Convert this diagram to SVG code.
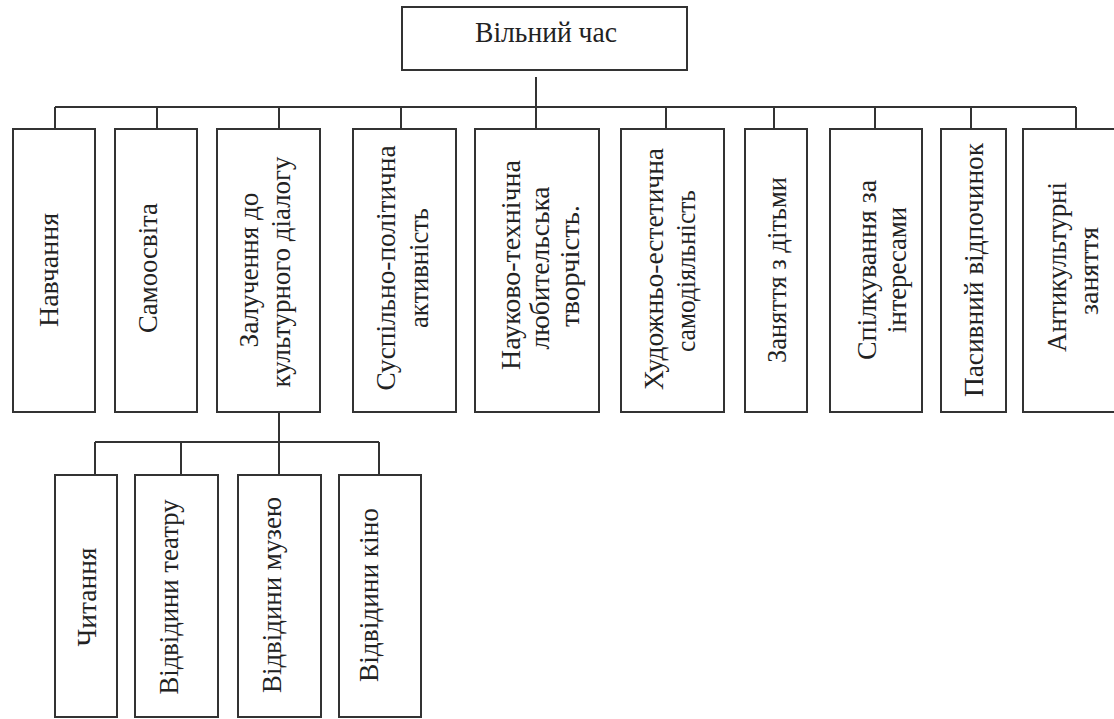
<svg xmlns="http://www.w3.org/2000/svg" width="1114" height="719" viewBox="0 0 1114 719">
<style>
.box{fill:#fff;stroke:#333;stroke-width:2}
.ln{fill:none;stroke:#333;stroke-width:2}
text{font-family:"Liberation Serif","Times New Roman",serif;font-size:27px;fill:#222;text-anchor:middle}
.top{font-size:30px}
</style>
<rect width="1114" height="719" fill="#fff"/>
<g id="connectors" class="ln">
<path d="M536 77V107M55 107H1076"/>
<path d="M55 107V129M157 107V129M279 107V129M401 107V129M536 107V129M666 107V129M774 107V129M875 107V129M971 107V129M1076 107V129"/>
<path d="M279 412V475M95 442H379M95 442V475M181 442V475M379 442V475"/>
</g>
<g id="n-root"><rect class="box" x="402" y="7" width="285" height="63"/><text class="top" x="546" y="42" textLength="142" lengthAdjust="spacingAndGlyphs">Вільний час</text></g>
<g id="n1"><rect class="box" x="13" y="129" width="82" height="283"/><text transform="translate(58,270) rotate(-90)" textLength="114" lengthAdjust="spacingAndGlyphs">Навчання</text></g>
<g id="n2"><rect class="box" x="115" y="129" width="82" height="283"/><text transform="translate(157,268) rotate(-90)" textLength="130" lengthAdjust="spacingAndGlyphs">Самоосвіта</text></g>
<g id="n3"><rect class="box" x="217" y="129" width="103" height="283"/><text transform="translate(258,270) rotate(-90)" textLength="155" lengthAdjust="spacingAndGlyphs">Залучення до</text><text transform="translate(290,272) rotate(-90)" textLength="231" lengthAdjust="spacingAndGlyphs">культурного діалогу</text></g>
<g id="n4"><rect class="box" x="353" y="129" width="103" height="283"/><text transform="translate(395,268) rotate(-90)" textLength="245" lengthAdjust="spacingAndGlyphs">Суспільно-політична</text><text transform="translate(428,268) rotate(-90)" textLength="120" lengthAdjust="spacingAndGlyphs">активність</text></g>
<g id="n5"><rect class="box" x="475" y="129" width="124" height="283"/><text transform="translate(520,265) rotate(-90)" textLength="210" lengthAdjust="spacingAndGlyphs">Науково-технічна</text><text transform="translate(549,268) rotate(-90)" textLength="163" lengthAdjust="spacingAndGlyphs">любительська</text><text transform="translate(579,266) rotate(-90)" textLength="122" lengthAdjust="spacingAndGlyphs">творчість.</text></g>
<g id="n6"><rect class="box" x="621" y="129" width="103" height="283"/><text transform="translate(663,269) rotate(-90)" textLength="242" lengthAdjust="spacingAndGlyphs">Художньо-естетична</text><text transform="translate(695,271) rotate(-90)" textLength="162" lengthAdjust="spacingAndGlyphs">самодіяльність</text></g>
<g id="n7"><rect class="box" x="745" y="129" width="62" height="283"/><text transform="translate(786,270) rotate(-90)" textLength="186" lengthAdjust="spacingAndGlyphs">Заняття з дітьми</text></g>
<g id="n8"><rect class="box" x="830" y="129" width="92" height="283"/><text transform="translate(876,270) rotate(-90)" textLength="180" lengthAdjust="spacingAndGlyphs">Спілкування за</text><text transform="translate(906,270) rotate(-90)" textLength="126" lengthAdjust="spacingAndGlyphs">інтересами</text></g>
<g id="n9"><rect class="box" x="941" y="129" width="65" height="283"/><text transform="translate(983,270) rotate(-90)" textLength="254" lengthAdjust="spacingAndGlyphs">Пасивний відпочинок</text></g>
<g id="n10"><rect class="box" x="1023" y="129" width="110" height="283"/><text transform="translate(1066,267) rotate(-90)" textLength="170" lengthAdjust="spacingAndGlyphs">Антикультурні</text><text transform="translate(1098,271) rotate(-90)" textLength="88" lengthAdjust="spacingAndGlyphs">заняття</text></g>
<g id="n3a"><rect class="box" x="55" y="475" width="62" height="242"/><text transform="translate(96,597) rotate(-90)" textLength="99" lengthAdjust="spacingAndGlyphs">Читання</text></g>
<g id="n3b"><rect class="box" x="135" y="475" width="83" height="242"/><text transform="translate(178,597) rotate(-90)" textLength="195" lengthAdjust="spacingAndGlyphs">Відвідини театру</text></g>
<g id="n3c"><rect class="box" x="238" y="475" width="83" height="242"/><text transform="translate(281,595) rotate(-90)" textLength="196" lengthAdjust="spacingAndGlyphs">Відвідини музею</text></g>
<g id="n3d"><rect class="box" x="339" y="475" width="82" height="242"/><text transform="translate(378,595) rotate(-90)" textLength="174" lengthAdjust="spacingAndGlyphs">Відвідини кіно</text></g>
</svg>
